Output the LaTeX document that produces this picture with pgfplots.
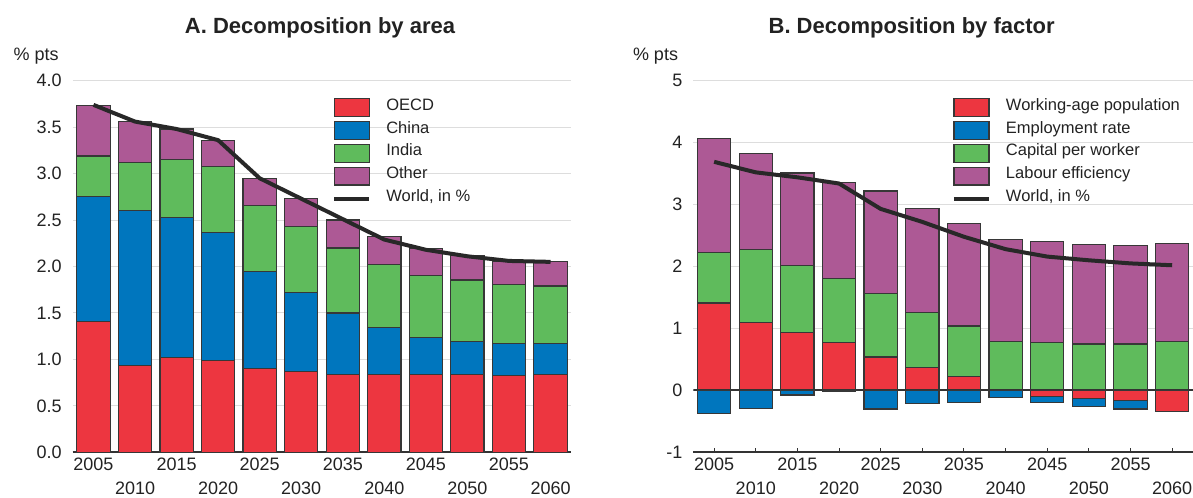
\documentclass[border=0pt]{standalone}
\usepackage{fontspec}
\setmainfont{Liberation Sans}
\usepackage{pgfplots}
\usepackage{pgfplotstable}
\pgfplotsset{compat=1.18}

\definecolor{cred}{RGB}{237,54,64}
\definecolor{cblue}{RGB}{0,118,190}
\definecolor{cgreen}{RGB}{95,187,92}
\definecolor{cpurple}{RGB}{173,89,149}
\definecolor{edgecol}{RGB}{55,55,55}
\definecolor{linecol}{RGB}{40,40,40}
\definecolor{gridcol}{RGB}{221,221,221}
\definecolor{axiscol}{RGB}{51,51,51}
\definecolor{txtcol}{RGB}{34,34,34}

\newcommand\tickfont{\fontsize{10.8}{13}\selectfont}
\newcommand\legfont{\fontsize{9.9}{12}\selectfont}
\newcommand\titlefont{\fontsize{13.2}{15}\selectfont\bfseries}

% area decomposition (stacked increments), world growth in %
\pgfplotstableread{
x oecd china india other world
0  1.41 1.34 0.44 0.54 3.74
1  0.93 1.67 0.52 0.44 3.56
2  1.02 1.51 0.62 0.33 3.48
3  0.99 1.38 0.71 0.28 3.36
4  0.90 1.05 0.71 0.29 2.95
5  0.87 0.85 0.71 0.30 2.73
6  0.84 0.66 0.70 0.30 2.51
7  0.84 0.50 0.68 0.30 2.29
8  0.84 0.40 0.66 0.29 2.18
9  0.84 0.355 0.66 0.26 2.11
10 0.83 0.345 0.63 0.25 2.06
11 0.84 0.33 0.62 0.265 2.05
}\areadata

% factor decomposition: positive and negative parts stacked separately
\pgfplotstableread{
x wapp empp cap lab wapn empn world
0  1.41 0    0.82 1.84 0     -0.37  3.69
1  1.10 0    1.18 1.55 0     -0.29  3.52
2  0.94 0    1.07 1.50 0     -0.075 3.44
3  0.77 0    1.04 1.55 0     -0.015 3.34
4  0.54 0    1.02 1.66 0     -0.30  2.93
5  0.37 0    0.89 1.68 0     -0.215 2.72
6  0.22 0    0.82 1.66 0     -0.195 2.48
7  0.02 0    0.77 1.64 0     -0.12  2.28
8  0    0    0.77 1.63 -0.10 -0.10  2.16
9  0    0    0.75 1.61 -0.13 -0.135 2.10
10 0    0    0.75 1.59 -0.16 -0.14  2.05
11 0    0.02 0.77 1.58 -0.34 0      2.02
}\factordata

\pgfplotsset{
  common/.style={
    anchor=south west, scale only axis, height=222.96pt,
    xmin=-0.5, xmax=11.5, enlargelimits=false,
  },
  visible/.style={
    common,
    axis lines*=left,
    y axis line style={draw=none},
    x axis line style={-, draw=axiscol, line width=1.2pt},
    ymajorgrids, grid style={gridcol, line width=0.6pt},
    ytick style={draw=none},
    xtick style={draw=axiscol, line width=0.6pt},
    tick align=inside, major tick length=2.6pt,
    xtick={0,2,4,6,8,10},
    xticklabels={2005,2015,2025,2035,2045,2055},
    extra x ticks={1,3,5,7,9,11},
    extra x tick labels={2010,2020,2030,2040,2050,2060},
    extra x tick style={xticklabel style={yshift=-14.6pt}},
    xticklabel style={anchor=north, inner sep=0pt, yshift=-3pt},
    yticklabel style={anchor=east, inner sep=0pt, xshift=-6.4pt},
    tick label style={font=\tickfont, text=txtcol},
    /pgf/number format/assume math mode=true,
    legend cell align=left,
    legend style={anchor=north west, draw=none, fill=none, inner sep=0pt,
      font=\legfont, text=txtcol,
      nodes={inner xsep=0pt, inner ysep=0pt, text height=8.4pt, text depth=5.3pt},
      /tikz/every odd column/.append style={column sep=9pt}},
  },
  barsty/.style={fill=#1, draw=edgecol, line width=0.7pt,
    legend image code/.code={\draw[##1] (0pt,-5.3pt) rectangle (21pt,5.3pt);}},
  worldsty/.style={draw=linecol, line width=2.4pt, line join=round, line cap=butt,
    legend image code/.code={\draw[##1] (0pt,0pt) -- (21pt,0pt);}},
}

\begin{document}
\begin{tikzpicture}
\useasboundingbox (0,0) rectangle (715.8pt,298.2pt);

% ---------- Panel A ----------
\begin{axis}[visible, at={(43.62pt,26.82pt)}, width=299.16pt,
    ymin=0, ymax=4,
    ytick={0,0.5,1,1.5,2,2.5,3,3.5,4},
    yticklabels={0.0,0.5,1.0,1.5,2.0,2.5,3.0,3.5,4.0},
    ybar stacked, bar width=0.8,
    legend style={at={(0.520,0.959)}}]
\addplot[barsty=cred] table[x=x,y=oecd]{\areadata};
\addlegendentry{OECD}
\addplot[barsty=cblue] table[x=x,y=china]{\areadata};
\addlegendentry{China}
\addplot[barsty=cgreen] table[x=x,y=india]{\areadata};
\addlegendentry{India}
\addplot[barsty=cpurple] table[x=x,y=other]{\areadata};
\addlegendentry{Other}
\addlegendimage{worldsty}
\addlegendentry{World, in \%}
\end{axis}
\begin{axis}[common, hide axis, at={(43.62pt,26.82pt)}, width=299.16pt,
    ymin=0, ymax=4]
\addplot[worldsty] table[x=x,y=world]{\areadata};
\end{axis}

% ---------- Panel B ----------
\begin{axis}[visible, at={(415.98pt,26.82pt)}, width=299.82pt,
    ymin=-1, ymax=5,
    ytick={-1,0,1,2,3,4,5},
    yticklabels={-1,0,1,2,3,4,5},
    ybar stacked, bar width=0.8,
    legend style={at={(0.517,0.959)}}]
\addplot[barsty=cred] table[x=x,y=wapp]{\factordata};
\addlegendentry{Working-age population}
\addplot[barsty=cblue] table[x=x,y=empp]{\factordata};
\addlegendentry{Employment rate}
\addplot[barsty=cgreen] table[x=x,y=cap]{\factordata};
\addlegendentry{Capital per worker}
\addplot[barsty=cpurple] table[x=x,y=lab]{\factordata};
\addlegendentry{Labour efficiency}
\addlegendimage{worldsty}
\addlegendentry{World, in \%}
\end{axis}
\begin{axis}[common, hide axis, at={(415.98pt,26.82pt)}, width=299.82pt,
    ymin=-1, ymax=5, ybar stacked, bar width=0.8]
\addplot[barsty=cred] table[x=x,y=wapn]{\factordata};
\addplot[barsty=cblue] table[x=x,y=empn]{\factordata};
\draw[axiscol, line width=1.2pt] (axis cs:-0.5,0) -- (axis cs:11.5,0);
\end{axis}
\begin{axis}[common, hide axis, at={(415.98pt,26.82pt)}, width=299.82pt,
    ymin=-1, ymax=5]
\addplot[worldsty] table[x=x,y=world]{\factordata};
\end{axis}

% ---------- titles and unit labels ----------
\node[anchor=base, text=txtcol, font=\titlefont] at (192pt,278.2pt) {A. Decomposition by area};
\node[anchor=base, text=txtcol, font=\titlefont] at (547pt,278.2pt) {B. Decomposition by factor};
\node[anchor=base west, inner sep=0pt, text=txtcol, font=\tickfont] at (8pt,262.2pt) {\% pts};
\node[anchor=base west, inner sep=0pt, text=txtcol, font=\tickfont] at (379.6pt,262.2pt) {\% pts};
\end{tikzpicture}
\end{document}
